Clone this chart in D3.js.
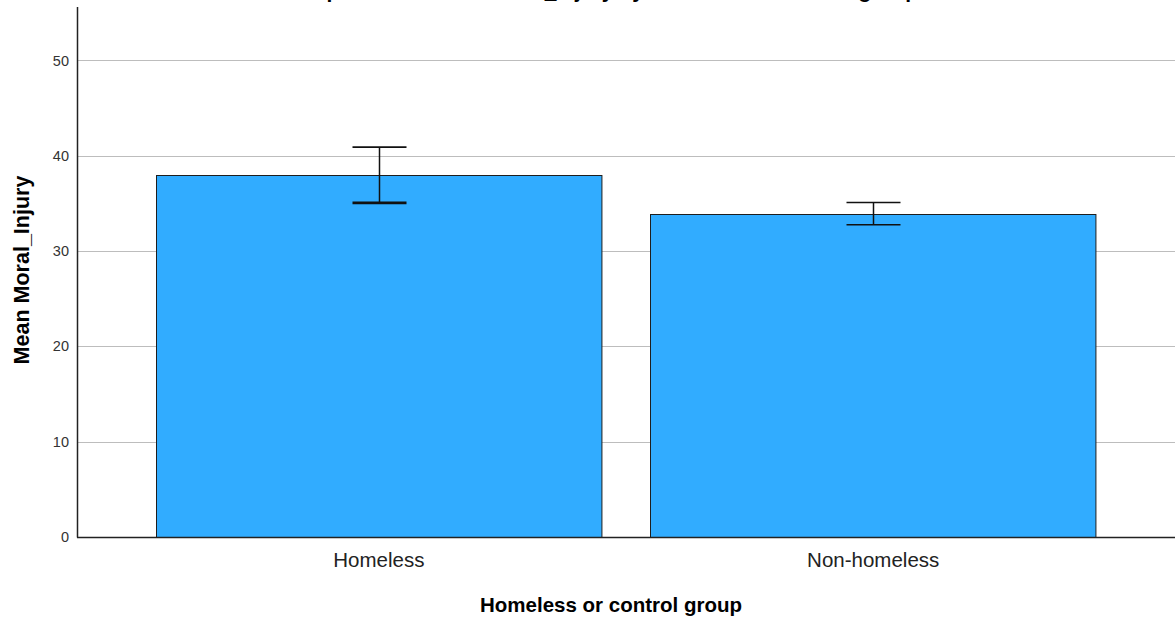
<!DOCTYPE html>
<html>
<head>
<meta charset="utf-8">
<script src="https://cdn.jsdelivr.net/npm/d3@7"></script>
<style>
  html, body { margin: 0; padding: 0; background: #ffffff; }
  svg { display: block; }
  text { font-family: Arial, "Liberation Sans", sans-serif; }
</style>
</head>
<body>
<svg id="chart" width="1175" height="621"></svg>
<script>
// Mean Moral_Injury by group, with 95% CI error bars
const groups = ["Homeless", "Non-homeless"];
const means = [37.97, 33.92];
const ciLow = [35.05, 32.75];
const ciHigh = [40.90, 35.09];
const yTicks = [0, 10, 20, 30, 40, 50];

const plotLeft = 77, plotRight = 1175, plotTop = 7, plotBottom = 537;

const svg = d3.select("#chart");

const x = d3.scaleBand()
  .domain(groups)
  .range([plotLeft, plotRight])
  .paddingInner(0.099)
  .paddingOuter(0.16);

const y = d3.scaleLinear()
  .domain([0, 55.6])
  .range([plotBottom, plotTop]);

// Gridlines
svg.append("g")
  .selectAll("line")
  .data(yTicks.filter(d => d > 0))
  .join("line")
  .attr("x1", plotLeft).attr("x2", plotRight)
  .attr("y1", d => Math.round(y(d)) + 0.5)
  .attr("y2", d => Math.round(y(d)) + 0.5)
  .attr("stroke", "#bdbdbd")
  .attr("stroke-width", 1);

// Bars
const data = groups.map((g, i) => ({ g, mean: means[i], lo: ciLow[i], hi: ciHigh[i] }));

svg.append("g")
  .selectAll("rect")
  .data(data)
  .join("rect")
  .attr("x", d => Math.round(x(d.g)) + 0.5)
  .attr("y", d => Math.round(y(d.mean)) + 0.5)
  .attr("width", x.bandwidth())
  .attr("height", d => plotBottom - Math.round(y(d.mean)))
  .attr("fill", "#31acff")
  .attr("stroke", "#1e1e1e")
  .attr("stroke-width", 1);

// Error bars
const capHalf = 27;
const eb = svg.append("g").attr("stroke", "#111").attr("fill", "none");
data.forEach((d, i) => {
  const cx = Math.round(x(d.g) + x.bandwidth() / 2) + 0.5;
  eb.append("line")
    .attr("x1", cx).attr("x2", cx)
    .attr("y1", y(d.hi)).attr("y2", y(d.lo))
    .attr("stroke-width", 1.5);
  [d.hi, d.lo].forEach((v, j) => {
    eb.append("line")
      .attr("x1", cx - capHalf).attr("x2", cx + capHalf)
      .attr("y1", y(v)).attr("y2", y(v))
      .attr("stroke-width", (i === 0 && j === 1) ? 2.6 : 1.6);
  });
});

// Y axis
const yAxis = d3.axisLeft(y).tickValues(yTicks).tickSize(0).tickPadding(8).tickFormat(d3.format("d"));
const gy = svg.append("g").attr("transform", `translate(${plotLeft},0)`).call(yAxis);
gy.select(".domain").remove();
gy.selectAll("text")
  .attr("font-size", 14.5)
  .attr("fill", "#333")
  .style("font-family", "Arial, 'Liberation Sans', sans-serif");

svg.append("line")
  .attr("x1", plotLeft + 0.5).attr("x2", plotLeft + 0.5)
  .attr("y1", plotTop).attr("y2", plotBottom + 0.5)
  .attr("stroke", "#222").attr("stroke-width", 1.5);

// X axis
const xAxis = d3.axisBottom(x).tickSize(0).tickPadding(15);
const gx = svg.append("g").attr("transform", `translate(0,${plotBottom})`).call(xAxis);
gx.select(".domain").remove();
gx.selectAll("text")
  .attr("font-size", 20.5)
  .attr("fill", "#222")
  .style("font-family", "Arial, 'Liberation Sans', sans-serif");

svg.append("line")
  .attr("x1", plotLeft).attr("x2", plotRight)
  .attr("y1", plotBottom + 0.5).attr("y2", plotBottom + 0.5)
  .attr("stroke", "#222").attr("stroke-width", 1.5);

// Axis titles
svg.append("text")
  .attr("x", 611)
  .attr("y", 612)
  .attr("text-anchor", "middle")
  .attr("font-size", 20.5)
  .attr("font-weight", "bold")
  .attr("fill", "#000")
  .text("Homeless or control group");

svg.append("text")
  .attr("transform", `translate(29,270) rotate(-90)`)
  .attr("text-anchor", "middle")
  .attr("font-size", 21.5)
  .attr("font-weight", "bold")
  .attr("fill", "#000")
  .text("Mean Moral_Injury");

// Chart title (sits above the visible area; only descenders show)
svg.append("text")
  .attr("x", 603)
  .attr("y", -2)
  .attr("text-anchor", "middle")
  .attr("font-size", 21)
  .attr("font-weight", "bold")
  .attr("fill", "#000")
  .text("Simple Bar Mean of Moral_Injury by Homeless or control group");
</script>
</body>
</html>
